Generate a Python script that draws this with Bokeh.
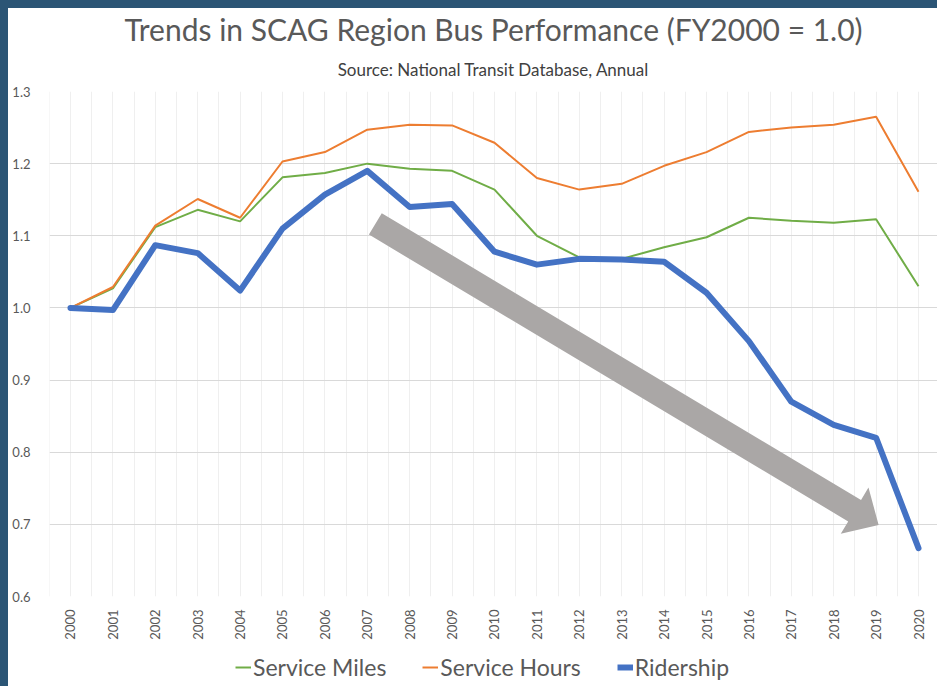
from math import pi, hypot
from bokeh.plotting import figure
from bokeh.layouts import column
from bokeh.models import (Range1d, FixedTicker, Legend, LegendItem,
                          Title, PrintfTickFormatter, GlobalInlineStyleSheet)
from bokeh.embed import file_html
from bokeh.resources import INLINE

years = list(range(2000, 2021))
year_labels = [str(y) for y in years]
service_miles = [1.000, 1.027, 1.112, 1.136, 1.120, 1.181, 1.187, 1.200, 1.193, 1.190,
                 1.164, 1.100, 1.070, 1.068, 1.084, 1.098, 1.125, 1.121, 1.118, 1.123, 1.030]
service_hours = [1.000, 1.029, 1.114, 1.151, 1.125, 1.203, 1.216, 1.247, 1.254, 1.253,
                 1.229, 1.180, 1.164, 1.172, 1.197, 1.216, 1.244, 1.250, 1.254, 1.265, 1.161]
ridership = [1.000, 0.997, 1.087, 1.076, 1.024, 1.110, 1.157, 1.190, 1.140, 1.144,
             1.078, 1.060, 1.068, 1.067, 1.064, 1.021, 0.954, 0.870, 0.838, 0.820, 0.667]
y_ticks = [0.6, 0.7, 0.8, 0.9, 1.0, 1.1, 1.2, 1.3]
grid_minor = [y + 0.5 for y in range(1999, 2021)]
series_names = ["Service Miles", "Service Hours", "Ridership"]

# trend arrow (annotation), data coordinates of its tail and tip
arrow_start = (2007.19, 1.1165)
arrow_end = (2019.06, 0.699)

FONT = "Lato"
TXT = "#595959"
GREEN, ORANGE, BLUE, GRAY = "#70ad47", "#ed7d31", "#4472c4", "#aaa7a6"

X_RANGE = (1999.505, 2020.448)
Y_RANGE = (0.6, 1.3)
FRAME_W, FRAME_H = 888, 505

fig = figure(width=929, height=638, frame_width=FRAME_W, frame_height=FRAME_H,
             output_backend="svg", toolbar_location=None,
             x_range=Range1d(*X_RANGE), y_range=Range1d(*Y_RANGE),
             min_border_left=41, min_border_right=0, min_border_top=83, min_border_bottom=50,
             title="Trends in SCAG Region Bus Performance (FY2000 = 1.0)")

fig.stylesheets = [GlobalInlineStyleSheet(css=(
    "html {background:#ffffff;} "
    "body {margin:0; padding:0; overflow:hidden; background:#ffffff; "
    "border-left:8px solid #2b5575; border-top:8px solid #2b5575;}"))]

fig.title.align = "center"
fig.title.text_font = FONT
fig.title.text_font_size = "30px"
fig.title.text_font_style = "normal"
fig.title.text_color = TXT
try:
    fig.title.standoff = -3
except Exception:
    fig.title.standoff = 0
sub = Title(text="Source: National Transit Database, Annual", align="center",
            text_font=FONT, text_font_size="17px", text_font_style="normal",
            text_color="#404040", standoff=23)
fig.add_layout(sub, "above")

fig.outline_line_color = None
fig.background_fill_color = "white"
fig.border_fill_color = "white"

fig.xaxis.ticker = FixedTicker(ticks=years, minor_ticks=grid_minor)
fig.xaxis.major_label_overrides = {y: s for y, s in zip(years, year_labels)}
fig.xaxis.major_label_orientation = pi / 2
fig.xaxis.major_tick_line_color = None
fig.xaxis.minor_tick_line_color = None
fig.xaxis.axis_line_color = None
fig.xaxis.major_label_text_font = FONT
fig.xaxis.major_label_text_font_size = "13px"
fig.xaxis.major_label_text_color = TXT
fig.xaxis.major_label_standoff = 7

fig.yaxis.ticker = FixedTicker(ticks=y_ticks)
fig.yaxis.formatter = PrintfTickFormatter(format="%.1f")
fig.yaxis.major_tick_line_color = None
fig.yaxis.minor_tick_line_color = None
fig.yaxis.axis_line_color = None
fig.yaxis.major_label_text_font = FONT
fig.yaxis.major_label_text_font_size = "13px"
fig.yaxis.major_label_text_color = TXT
fig.yaxis.major_label_standoff = 13

fig.xgrid.grid_line_color = "#efefef"
fig.xgrid.minor_grid_line_color = "#efefef"
fig.ygrid.grid_line_color = "#d9d9d9"

fig.line(years, service_miles, line_color=GREEN, line_width=2)
fig.line(years, service_hours, line_color=ORANGE, line_width=2)
fig.line(years, ridership, line_color=BLUE, line_width=6, line_join="round", line_cap="round")

# block arrow: shaft 25px wide, head 54px wide and 28px long (built in pixel space)
sx = FRAME_W / (X_RANGE[1] - X_RANGE[0])
sy = FRAME_H / (Y_RANGE[1] - Y_RANGE[0])
x0, y0 = arrow_start[0] * sx, arrow_start[1] * sy
x1, y1 = arrow_end[0] * sx, arrow_end[1] * sy
L = hypot(x1 - x0, y1 - y0)
ux, uy = (x1 - x0) / L, (y1 - y0) / L
nx, ny = -uy, ux
SHAFT, HEAD_W, HEAD_L = 12.5, 27.0, 28.0
bx, by = x1 - ux * HEAD_L, y1 - uy * HEAD_L
pts = [(x0 + nx * SHAFT, y0 + ny * SHAFT), (bx + nx * SHAFT, by + ny * SHAFT),
       (bx + nx * HEAD_W, by + ny * HEAD_W), (x1, y1),
       (bx - nx * HEAD_W, by - ny * HEAD_W), (bx - nx * SHAFT, by - ny * SHAFT),
       (x0 - nx * SHAFT, y0 - ny * SHAFT)]
fig.patch([q[0] / sx for q in pts], [q[1] / sy for q in pts],
          fill_color=GRAY, line_color=None)

# legend strip below the chart (its own series copies lie outside its view)
leg = figure(width=929, height=40, output_backend="svg", toolbar_location=None,
             x_range=Range1d(0, 1), y_range=Range1d(0, 1),
             x_axis_type=None, y_axis_type=None, min_border=0)
leg.outline_line_color = None
leg.background_fill_color = "white"
leg.border_fill_color = "white"
l1 = leg.line(years, service_miles, line_color=GREEN, line_width=2)
l2 = leg.line(years, service_hours, line_color=ORANGE, line_width=2)
l3 = leg.line(years, ridership, line_color=BLUE, line_width=6)
legend = Legend(items=[LegendItem(label=n, renderers=[r]) for n, r in zip(series_names, [l1, l2, l3])],
                location=(186, 5), orientation="horizontal", border_line_color=None,
                background_fill_alpha=0, label_text_font=FONT, label_text_font_size="23px",
                label_text_color=TXT, glyph_width=16, glyph_height=24, label_standoff=2,
                spacing=36, padding=2, margin=0)
leg.add_layout(legend, "center")

p = column(fig, leg, spacing=0)
open("out.html", "w").write(file_html(p, INLINE))
